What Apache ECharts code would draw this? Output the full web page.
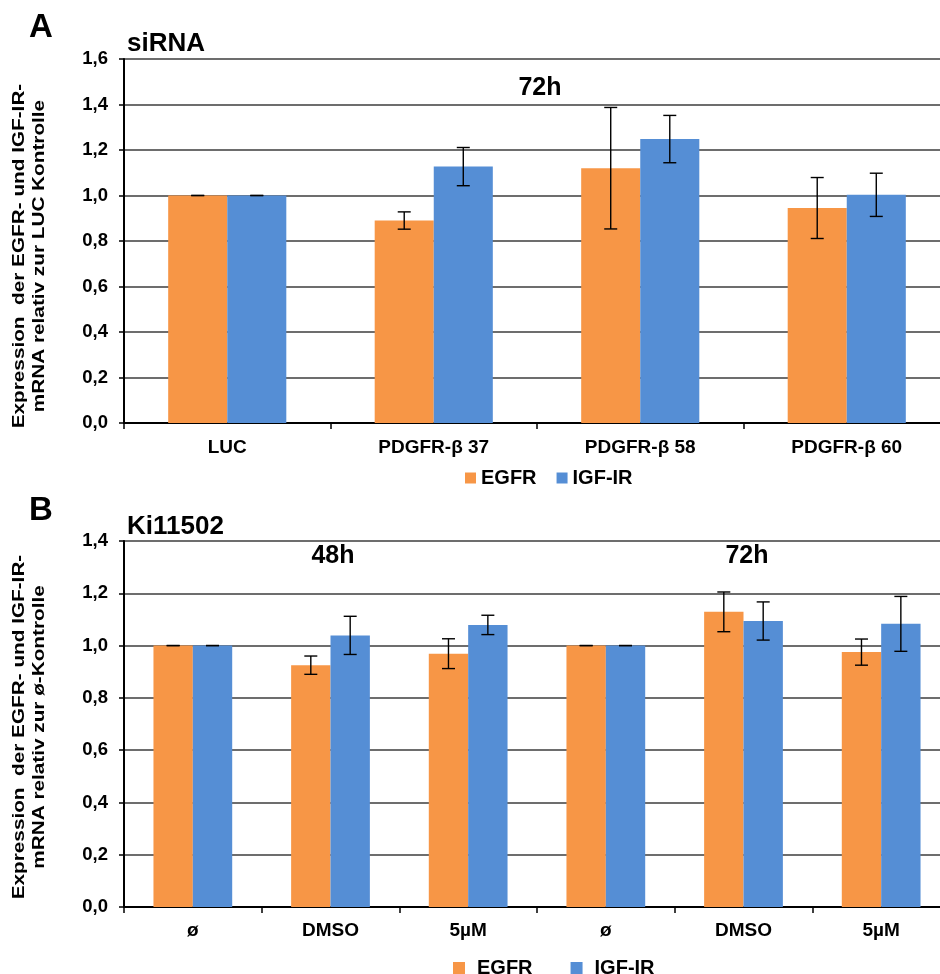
<!DOCTYPE html>
<html>
<head>
<meta charset="utf-8">
<script src="https://cdn.jsdelivr.net/npm/echarts@6/dist/echarts.min.js"></script>
<style>
html,body{margin:0;padding:0;background:#fff;}
#chart{width:940px;height:974px;}
</style>
</head>
<body>
<div id="chart"></div>
<script>
// ---- Data ----
const catsA = ['LUC', 'PDGFR-β 37', 'PDGFR-β 58', 'PDGFR-β 60'];
const egfrA = [1.00, 0.89, 1.12, 0.945];
const egfrErrA = [0, 0.038, 0.267, 0.134];
const igfA = [1.00, 1.127, 1.248, 1.003];
const igfErrA = [0, 0.084, 0.104, 0.095];

const catsB = ['ø', 'DMSO', '5µM', 'ø', 'DMSO', '5µM'];
const egfrB = [1.00, 0.925, 0.969, 1.00, 1.129, 0.975];
const egfrErrB = [0, 0.035, 0.057, 0, 0.076, 0.05];
const igfB = [1.00, 1.039, 1.079, 1.00, 1.094, 1.083];
const igfErrB = [0, 0.073, 0.037, 0, 0.073, 0.105];

const yTicksA = { min: 0, max: 1.6, interval: 0.2 };
const yTicksB = { min: 0, max: 1.4, interval: 0.2 };

const seriesNames = ['EGFR', 'IGF-IR'];

// ---- Styles ----
const FONT = 'Liberation Sans, Arial, sans-serif';
const ORANGE = '#F79646';
const BLUE = '#558ED5';
const BAR_FRAC = 0.286;

function errData(vals, errs, sIdx) {
  return vals.map((v, i) => [i, v, errs[i], sIdx]);
}

function renderErr(params, api) {
  const ci = api.value(0), v = api.value(1), e = api.value(2), s = api.value(3);
  const band = api.size([1, 0])[0];
  const off = (s === 0 ? -1 : 1) * band * BAR_FRAC / 2;
  const top = api.coord([ci, v + e]);
  const bot = api.coord([ci, v - e]);
  const x = top[0] + off;
  const cap = 6.5;
  const st = { stroke: '#000', lineWidth: 1.4 };
  return {
    type: 'group',
    children: [
      { type: 'line', shape: { x1: x, y1: top[1], x2: x, y2: bot[1] }, style: st },
      { type: 'line', shape: { x1: x - cap, y1: top[1], x2: x + cap, y2: top[1] }, style: st },
      { type: 'line', shape: { x1: x - cap, y1: bot[1], x2: x + cap, y2: bot[1] }, style: st }
    ]
  };
}

const fmt = v => v.toFixed(1).replace('.', ',');

function xAxisCfg(cats, gridIndex, margin) {
  return {
    type: 'category', gridIndex: gridIndex, data: cats,
    axisLine: { lineStyle: { color: '#000', width: 2 } },
    axisTick: { show: true, length: 6, lineStyle: { color: '#000', width: 1.5 } },
    axisLabel: { color: '#000', fontFamily: FONT, fontWeight: 'bold', fontSize: 19, margin: margin, interval: 0 },
    splitLine: { show: false }
  };
}
function yAxisCfg(t, gridIndex) {
  return {
    type: 'value', gridIndex: gridIndex, min: t.min, max: t.max, interval: t.interval,
    axisLine: { show: true, lineStyle: { color: '#000', width: 2 } },
    axisTick: { show: true, length: 5, lineStyle: { color: '#000', width: 1.5 } },
    axisLabel: { color: '#000', fontFamily: FONT, fontWeight: 'bold', fontSize: 18.5, margin: 16, formatter: fmt },
    splitLine: { show: true, lineStyle: { color: '#3c3c3c', width: 1.5 } }
  };
}

function barSeries(name, data, color, idx) {
  return {
    type: 'bar', name: name, data: data, xAxisIndex: idx, yAxisIndex: idx,
    barWidth: (BAR_FRAC * 100) + '%', barGap: '0%',
    itemStyle: { color: color }, emphasis: { disabled: true }, z: 2
  };
}
function errSeries(vals, errs, sIdx, idx) {
  return {
    type: 'custom', data: errData(vals, errs, sIdx), xAxisIndex: idx, yAxisIndex: idx,
    renderItem: renderErr, z: 5, silent: true
  };
}

function txt(text, x, y, size, align) {
  return {
    type: 'text', x: x, y: y,
    style: { text: text, fill: '#000', font: 'bold ' + size + 'px ' + FONT,
      textAlign: align || 'center', textVerticalAlign: 'middle', align: align || 'center', verticalAlign: 'middle' }
  };
}
function rotTxt(text, x, y, size, sc) {
  return {
    type: 'text', x: x, y: y, rotation: Math.PI / 2, scaleX: sc,
    style: { text: text, fill: '#000', font: 'bold ' + size + 'px ' + FONT,
      textAlign: 'center', textVerticalAlign: 'middle', align: 'center', verticalAlign: 'middle' }
  };
}

const legendText = { color: '#000', fontFamily: FONT, fontWeight: 'bold', fontSize: 20 };

const option = {
  animation: false,
  backgroundColor: '#fff',
  grid: [
    { left: 124, top: 59, width: 826, height: 364, containLabel: false, outerBoundsMode: 'none' },
    { left: 124, top: 541, width: 826, height: 366, containLabel: false, outerBoundsMode: 'none' }
  ],
  xAxis: [xAxisCfg(catsA, 0, 15), xAxisCfg(catsB, 1, 14)],
  yAxis: [yAxisCfg(yTicksA, 0), yAxisCfg(yTicksB, 1)],
  legend: [
    { data: seriesNames, left: 460, top: 463, icon: 'rect', itemWidth: 11, itemHeight: 11, itemGap: 20,
      textStyle: legendText, selectedMode: false },
    { data: seriesNames, left: 448, top: 953, icon: 'rect', itemWidth: 12, itemHeight: 12, itemGap: 38,
      textStyle: Object.assign({}, legendText, { padding: [0, 0, 0, 7] }), selectedMode: false }
  ],
  series: [
    barSeries(seriesNames[0], egfrA, ORANGE, 0),
    barSeries(seriesNames[1], igfA, BLUE, 0),
    errSeries(egfrA, egfrErrA, 0, 0),
    errSeries(igfA, igfErrA, 1, 0),
    barSeries(seriesNames[0], egfrB, ORANGE, 1),
    barSeries(seriesNames[1], igfB, BLUE, 1),
    errSeries(egfrB, egfrErrB, 0, 1),
    errSeries(igfB, igfErrB, 1, 1)
  ],
  graphic: [
    txt('A', 41, 28, 33),
    txt('siRNA', 127, 44, 26, 'left'),
    txt('72h', 540, 88, 25),
    txt('B', 41, 511, 33),
    txt('Ki11502', 127, 527, 26, 'left'),
    txt('48h', 333, 556, 25),
    txt('72h', 747, 556, 25),
    rotTxt('Expression  der EGFR- und IGF-IR-', 19, 256, 17, 1.22),
    rotTxt('mRNA relativ zur LUC Kontrolle', 39, 256, 17, 1.22),
    rotTxt('Expression  der EGFR- und IGF-IR-', 19, 727, 17, 1.22),
    rotTxt('mRNA relativ zur ø-Kontrolle', 39, 727, 17, 1.22)
  ]
};

const chart = echarts.init(document.getElementById('chart'), null, { renderer: 'canvas' });
chart.setOption(option);
</script>
</body>
</html>
